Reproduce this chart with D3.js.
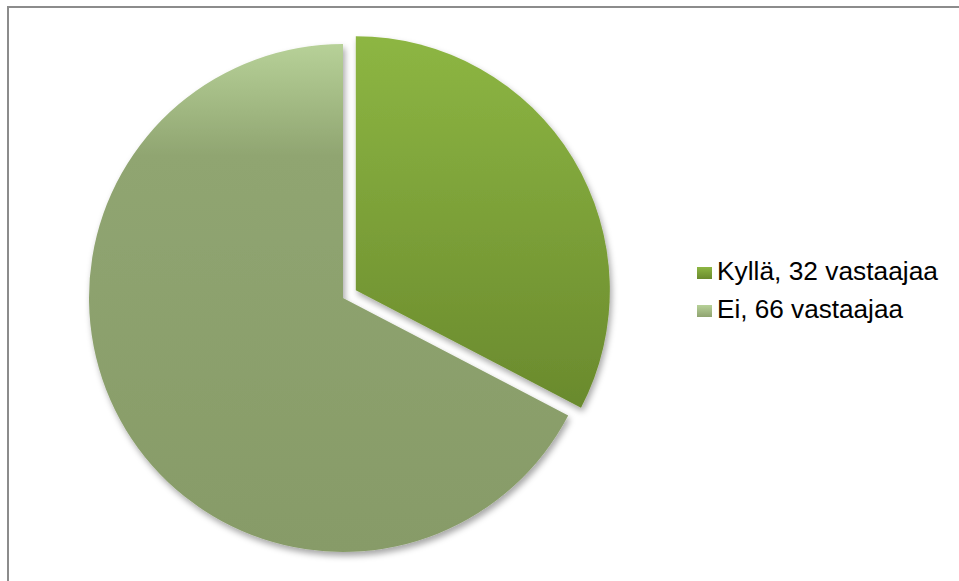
<!DOCTYPE html>
<html>
<head>
<meta charset="utf-8">
<script src="https://cdn.jsdelivr.net/npm/d3@7"></script>
<style>
  html, body { margin: 0; padding: 0; background: #fff; }
  svg { display: block; }
</style>
</head>
<body>
<svg id="chart" width="959" height="581"></svg>
<script>
// ---- data ----
const categories = ["Kyllä", "Ei"];
const values = [32, 66];
const legendLabels = ["Kyllä, 32 vastaajaa", "Ei, 66 vastaajaa"];

// ---- layout ----
const W = 959, H = 581;
const cx = 343, cy = 298, R = 254;
const explode = [15, 0];

const svg = d3.select("#chart");
const defs = svg.append("defs");

const filt = defs.append("filter").attr("id", "shadow")
  .attr("x", "-10%").attr("y", "-10%").attr("width", "125%").attr("height", "125%");
filt.append("feDropShadow").attr("dx", 2).attr("dy", 4)
  .attr("stdDeviation", 3).attr("flood-color", "#000").attr("flood-opacity", 0.35);

const grads = [
  [["0%", "#8db643"], ["100%", "#6a8a2d"]],
  [["0%", "#b7d198"], ["22%", "#90a571"], ["100%", "#879b68"]]
];
grads.forEach((stops, i) => {
  const g = defs.append("linearGradient").attr("id", "g" + i)
    .attr("x1", 0).attr("y1", 0).attr("x2", 0).attr("y2", 1);
  stops.forEach(s => g.append("stop").attr("offset", s[0]).attr("stop-color", s[1]));
});
const lgrads = [
  [["0%", "#8db643"], ["100%", "#6a8a2d"]],
  [["0%", "#b7d198"], ["100%", "#8fa370"]]
];
lgrads.forEach((stops, i) => {
  const g = defs.append("linearGradient").attr("id", "lg" + i)
    .attr("x1", 0).attr("y1", 0).attr("x2", 0).attr("y2", 1);
  stops.forEach(s => g.append("stop").attr("offset", s[0]).attr("stop-color", s[1]));
});

// frame
svg.append("rect").attr("x", 8).attr("y", 7).attr("width", 1200).attr("height", 1200)
  .attr("fill", "none").attr("stroke", "#8c8c8c").attr("stroke-width", 2);

const pie = d3.pie().sort(null).value(d => d)(values);
const arc = d3.arc().innerRadius(0).outerRadius(R);

const g = svg.append("g").attr("transform", `translate(${cx},${cy})`);
[1, 0].forEach(i => {
  const d = pie[i];
  const mid = (d.startAngle + d.endAngle) / 2;
  const ox = Math.sin(mid) * explode[i], oy = -Math.cos(mid) * explode[i];
  g.append("path")
    .attr("d", arc(d))
    .attr("transform", `translate(${ox},${oy})`)
    .attr("fill", `url(#g${i})`)
    .attr("filter", "url(#shadow)");
});

// legend
const leg = svg.append("g");
const legY = d3.scalePoint().domain(categories).range([280, 318]);
categories.forEach((c, i) => {
  const y = legY(c);
  leg.append("rect").attr("x", 697).attr("y", y - 13).attr("width", 15).attr("height", 12)
    .attr("fill", `url(#lg${i})`);
  leg.append("text").attr("x", 717).attr("y", y)
    .attr("font-family", "Liberation Sans, Arial, sans-serif")
    .attr("font-size", 25).attr("fill", "#000")
    .attr("textLength", i === 0 ? 221 : 186).attr("lengthAdjust", "spacingAndGlyphs")
    .text(legendLabels[i]);
});
</script>
</body>
</html>
